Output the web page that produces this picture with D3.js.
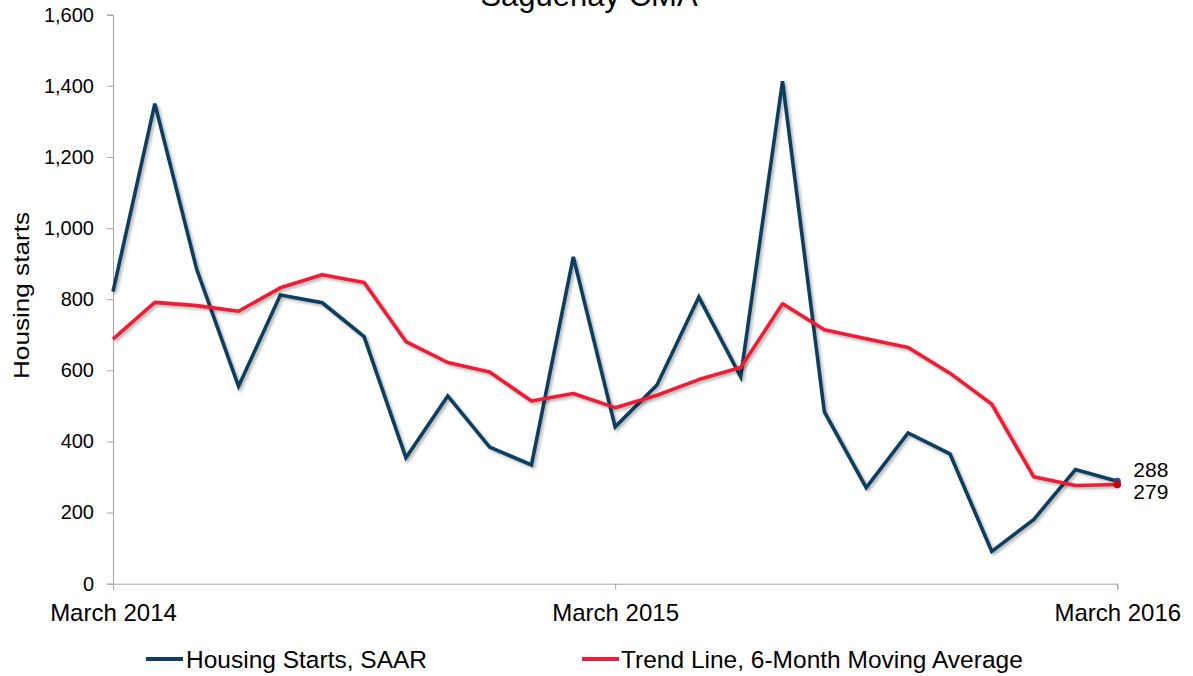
<!DOCTYPE html>
<html>
<head>
<meta charset="utf-8">
<script src="https://cdn.jsdelivr.net/npm/d3@7"></script>
<style>
  html, body { margin: 0; padding: 0; background: #fff; }
  svg { display: block; font-family: Arial, "Liberation Sans", sans-serif; }
</style>
</head>
<body>
<svg id="chart" width="1193" height="676"></svg>
<script>
const title = "Saguenay CMA";
const yTitle = "Housing starts";
const months = ["Mar 2014","Apr 2014","May 2014","Jun 2014","Jul 2014","Aug 2014","Sep 2014","Oct 2014","Nov 2014","Dec 2014","Jan 2015","Feb 2015","Mar 2015","Apr 2015","May 2015","Jun 2015","Jul 2015","Aug 2015","Sep 2015","Oct 2015","Nov 2015","Dec 2015","Jan 2016","Feb 2016","Mar 2016"];
const tickMonths = ["Mar 2014","Mar 2015","Mar 2016"];
const tickLabels = ["March 2014","March 2015","March 2016"];
const startsSAAR = [821, 1350, 884, 555, 812, 790, 695, 354, 528, 384, 334, 919, 441, 559, 806, 582, 1413, 483, 270, 424, 365, 91, 180, 321, 288];
const trend6M = [688, 791, 782, 766, 832, 869, 847, 681, 622, 595, 514, 535, 495, 530, 574, 608, 787, 714, 689, 664, 592, 505, 301, 276, 279];
const yTicks = [0, 200, 400, 600, 800, 1000, 1200, 1400, 1600];
const seriesNames = ["Housing Starts, SAAR", "Trend Line, 6-Month Moving Average"];
const colors = ["#0f3e5e", "#ee1c36"];

const svg = d3.select("#chart");
const pLeft = 113, pRight = 1117.3, pTop = 14.7, pBottom = 583.7;

const x = d3.scalePoint().domain(months).range([pLeft, pRight]);
const y = d3.scaleLinear().domain([0, 1600]).range([pBottom, pTop]);

// shadow filter
const defs = svg.append("defs");
const f = defs.append("filter").attr("id", "shadow").attr("x", "-5%").attr("y", "-5%").attr("width", "110%").attr("height", "110%");
f.append("feDropShadow").attr("dx", 2).attr("dy", 2).attr("stdDeviation", 1.4).attr("flood-color", "#000").attr("flood-opacity", 0.3);

// title
svg.append("text").attr("x", 589).attr("y", 6).attr("text-anchor", "middle")
  .attr("font-size", 31).attr("fill", "#000").text(title);

// Y axis
const yAxis = svg.append("g").attr("transform", `translate(${pLeft},0)`)
  .call(d3.axisLeft(y).tickValues(yTicks).tickFormat(d3.format(",")).tickSizeOuter(0).tickSize(6).tickPadding(13));
yAxis.select(".domain").attr("stroke", "#a6a6a6");
yAxis.selectAll(".tick line").attr("stroke", "#a6a6a6");
yAxis.selectAll(".tick text").attr("font-size", 20).attr("fill", "#000").attr("font-family", "Arial, 'Liberation Sans', sans-serif");

// X axis
const xAxis = svg.append("g").attr("transform", `translate(0,${pBottom})`)
  .call(d3.axisBottom(x).tickValues(tickMonths).tickFormat((d, i) => tickLabels[i]).tickSizeOuter(0).tickSize(6).tickPadding(14));
xAxis.select(".domain").attr("stroke", "#a6a6a6");
xAxis.selectAll(".tick line").attr("stroke", "#a6a6a6");
xAxis.selectAll(".tick text").attr("font-size", 24).attr("fill", "#000").attr("font-family", "Arial, 'Liberation Sans', sans-serif");

// Y title
svg.append("text").attr("transform", "translate(28.5,295.5) rotate(-90)")
  .attr("text-anchor", "middle").attr("font-size", 22).attr("fill", "#000")
  .attr("textLength", 167).attr("lengthAdjust", "spacingAndGlyphs").text(yTitle);

// lines
const line = d3.line().x((d, i) => x(months[i])).y(d => y(d));
svg.append("path").datum(startsSAAR).attr("d", line).attr("fill", "none")
  .attr("stroke", colors[0]).attr("stroke-width", 3.6).attr("stroke-linejoin", "miter").attr("filter", "url(#shadow)");
svg.append("path").datum(trend6M).attr("d", line).attr("fill", "none")
  .attr("stroke", colors[1]).attr("stroke-width", 3.6).attr("stroke-linejoin", "round").attr("filter", "url(#shadow)");

// end markers
const last = months.length - 1;
svg.append("circle").attr("cx", x(months[last])).attr("cy", y(startsSAAR[last])).attr("r", 3.5).attr("fill", "#1f4e8a");
svg.append("circle").attr("cx", x(months[last])).attr("cy", y(trend6M[last])).attr("r", 3.8).attr("fill", "#c8000a");

// end labels
svg.append("text").attr("x", x(months[last]) + 16).attr("y", y(startsSAAR[last]) - 4.5)
  .attr("font-size", 21).attr("fill", "#000").text(startsSAAR[last]);
svg.append("text").attr("x", x(months[last]) + 16).attr("y", y(trend6M[last]) + 14.5)
  .attr("font-size", 21).attr("fill", "#000").text(trend6M[last]);

// legend
const legendItems = [
  { x1: 146, x2: 183, tx: 186 },
  { x1: 582, x2: 619, tx: 621 }
];
legendItems.forEach((it, i) => {
  svg.append("line").attr("x1", it.x1).attr("x2", it.x2).attr("y1", 659).attr("y2", 659)
    .attr("stroke", colors[i]).attr("stroke-width", 4);
  svg.append("text").attr("x", it.tx).attr("y", 667.5).attr("font-size", 24.5).attr("fill", "#000").text(seriesNames[i]);
});
</script>
</body>
</html>
